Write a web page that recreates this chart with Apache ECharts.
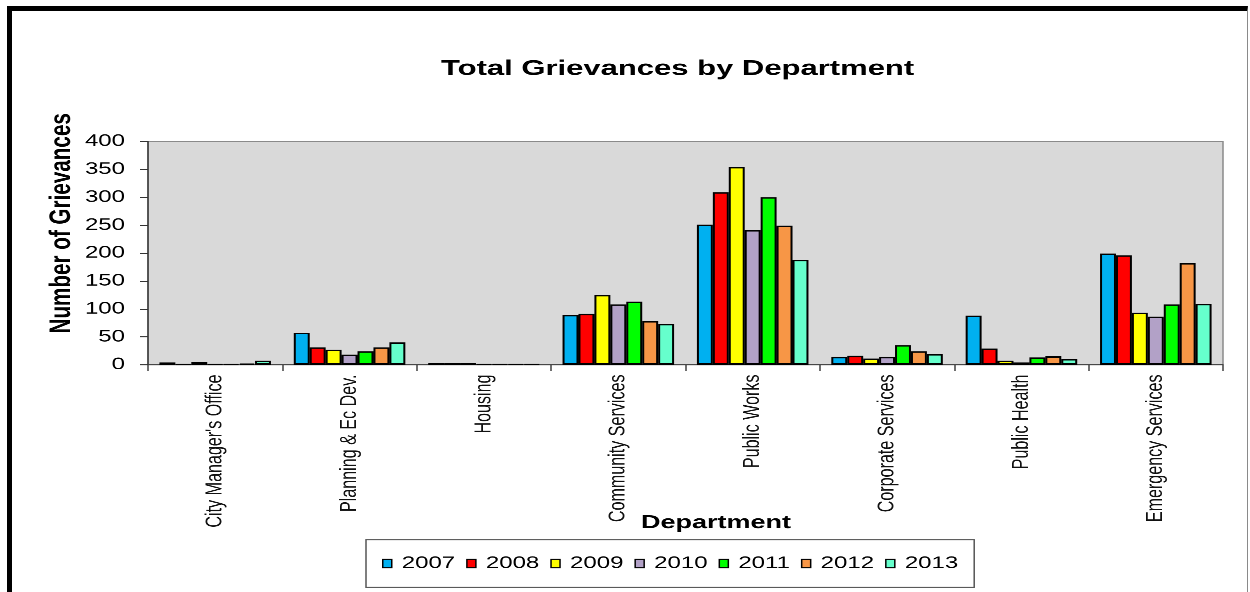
<!DOCTYPE html>
<html>
<head>
<meta charset="utf-8">
<title>Total Grievances by Department</title>
<script src="https://cdn.jsdelivr.net/npm/echarts@6/dist/echarts.min.js"></script>
<style>
  html, body { margin: 0; padding: 0; background: #fff; }
  body { width: 1250px; height: 592px; position: relative; overflow: hidden; }
  /* chart is laid out tall and squeezed vertically to the page height */
  #chart { position: absolute; left: 0; top: 0; width: 1250px; height: 846px;
           transform: scaleY(0.7); transform-origin: 0 0; }
  #frame { position: absolute; left: 7px; top: 6px; width: 1235px; height: 600px;
           border-top: 5px solid #000; border-left: 5px solid #000; border-right: 1.5px solid #8a8a8a;
           pointer-events: none; }
</style>
</head>
<body>
<div id="chart"></div>
<div id="frame"></div>
<script>
// Departments along the category axis
const departments = [
  "City Manager's Office", "Planning & Ec Dev.", "Housing", "Community Services",
  "Public Works", "Corporate Services", "Public Health", "Emergency Services"
];

// Grievance counts per year, in department order
const years = ["2007", "2008", "2009", "2010", "2011", "2012", "2013"];
const g2007 = [4, 57, 3, 89, 251, 14, 88, 199];
const g2008 = [1, 31, 3, 91, 309, 16, 29, 196];
const g2009 = [5, 27, 3, 125, 354, 11, 7, 93];
const g2010 = [1, 18, 1, 108, 241, 14, 4, 86];
const g2011 = [1, 24, 1, 113, 300, 35, 13, 108];
const g2012 = [2, 31, 1, 78, 249, 24, 15, 182];
const g2013 = [7, 40, 1, 73, 188, 19, 10, 109];
const yearValues = [g2007, g2008, g2009, g2010, g2011, g2012, g2013];
const yearColors = ["#00B0F0", "#FF0000", "#FFFF00", "#B2A1C7", "#00FF00", "#F79646", "#66FFCC"];

// Value axis ticks
const yMin = 0, yMax = 400, yStep = 50;

const FONT = "'Liberation Sans', Arial, sans-serif";

const chart = echarts.init(document.getElementById('chart'), null, { devicePixelRatio: 2 });

const series = years.map((y, i) => ({
  name: y,
  type: 'bar',
  data: yearValues[i],
  barGap: '0%',
  barCategoryGap: '17%',
  itemStyle: { color: yearColors[i], borderColor: '#000', borderWidth: 2 }
}));

// legend entries carry their own outlined swatch
const legendItems = years.map((y, i) => ({
  name: y,
  icon: 'rect',
  itemStyle: { color: yearColors[i], borderColor: '#000', borderWidth: 1.5 }
}));

chart.setOption({
  animation: false,
  backgroundColor: '#fff',
  title: {
    text: 'Total Grievances by Department',
    left: 436,
    top: 78,
    textStyle: { fontFamily: FONT, fontSize: 31, fontWeight: 'bold', color: '#000' }
  },
  grid: {
    left: 148, right: 27, top: 202, bottom: 325,
    show: true, backgroundColor: '#D9D9D9', borderColor: '#8a8a8a', borderWidth: 1.5,
    containLabel: false
  },
  xAxis: {
    type: 'category',
    data: departments,
    axisLine: { lineStyle: { color: '#404040', width: 1.5 } },
    axisTick: { show: true, length: 9, lineStyle: { color: '#404040', width: 1.5 } },
    axisLabel: { interval: 0, rotate: 90, margin: 14, fontFamily: FONT, fontSize: 23, color: '#111' },
    splitLine: { show: false }
  },
  yAxis: {
    type: 'value',
    min: yMin, max: yMax, interval: yStep,
    axisLine: { show: true, lineStyle: { color: '#333', width: 1.5 } },
    axisTick: { show: true, length: 8, lineStyle: { color: '#333', width: 1.5 } },
    axisLabel: { margin: 23, fontFamily: FONT, fontSize: 24, color: '#000' },
    splitLine: { show: false }
  },
  legend: {
    data: legendItems,
    left: 366, top: 771,
    padding: [22, 16],
    borderColor: '#555', borderWidth: 1.5,
    backgroundColor: '#fff',
    icon: 'rect',
    itemWidth: 9, itemHeight: 12, itemGap: 11,
    itemStyle: { borderColor: '#000', borderWidth: 1.5 },
    textStyle: { fontFamily: FONT, fontSize: 24, color: '#000', padding: [0, 0, 0, 5] }
  },
  graphic: [
    {
      type: 'text', x: 716, y: 747,
      style: {
        text: 'Department', fontFamily: FONT, fontSize: 27, fontWeight: 'bold', fill: '#000',
        textAlign: 'center', textVerticalAlign: 'middle', align: 'center', verticalAlign: 'middle'
      }
    },
    {
      type: 'text', x: 62, y: 319, rotation: Math.PI / 2,
      style: {
        text: 'Number of Grievances', fontFamily: FONT, fontSize: 29.5, fontWeight: 'bold', fill: '#000',
        textAlign: 'center', textVerticalAlign: 'middle', align: 'center', verticalAlign: 'middle'
      }
    }
  ],
  series: series
});
</script>
</body>
</html>
